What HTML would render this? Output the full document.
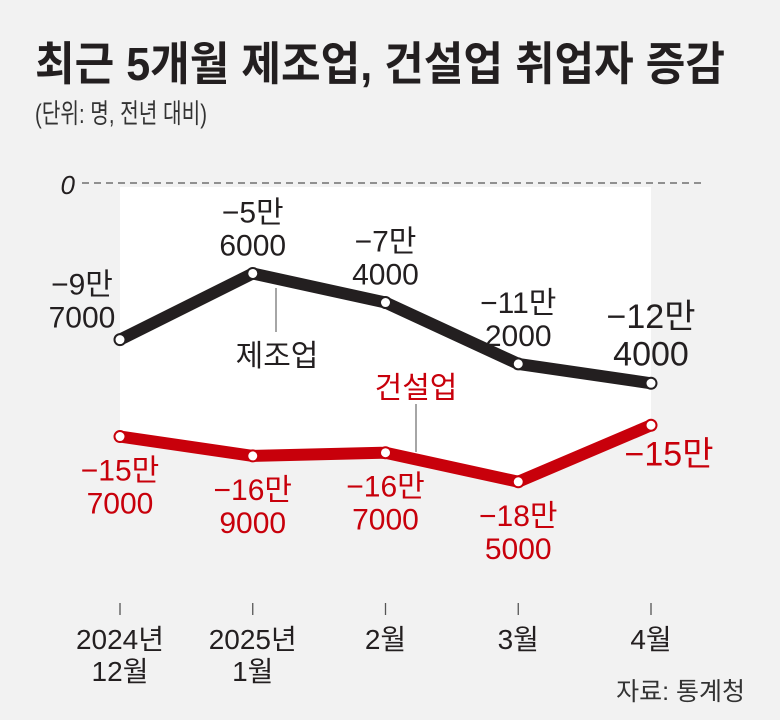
<!DOCTYPE html>
<html><head><meta charset="utf-8"><style>
html,body{margin:0;padding:0;background:#f2f2f2}
svg{display:block}
text{font-family:"Liberation Sans","Noto Sans CJK KR",sans-serif}
</style></head><body>
<svg width="780" height="720" viewBox="0 0 780 720">
<rect x="0" y="0" width="780" height="720" fill="#f2f2f2"/>
<text x="35" y="80" font-size="46" font-weight="bold" fill="#231f20" textLength="690" lengthAdjust="spacingAndGlyphs">최근 5개월 제조업, 건설업 취업자 증감</text>
<text x="35" y="123" font-size="27" fill="#333" textLength="172" lengthAdjust="spacingAndGlyphs">(단위: 명, 전년 대비)</text>
<polygon id="whiteArea" fill="#ffffff"/>
<text x="75" y="194" font-size="26" font-style="italic" fill="#231f20" text-anchor="end">0</text>
<line x1="82" y1="183" x2="706" y2="183" stroke="#555" stroke-width="1.3" stroke-dasharray="7,5"/>
<line x1="276" y1="288" x2="276" y2="332" stroke="#888" stroke-width="1.5"/>
<text x="277" y="366" font-size="30" fill="#231f20" text-anchor="middle">제조업</text>
<line x1="416" y1="404" x2="416" y2="452" stroke="#888" stroke-width="1.5"/>
<text x="416" y="398" font-size="30" fill="#c8000b" text-anchor="middle">건설업</text>
<g id="series"></g>
<g id="xaxis"></g>
<text x="745" y="700" font-size="25" fill="#333" text-anchor="end">자료: 통계청</text>
</svg>
<script>
const categories = ["2024년|12월","2025년|1월","2월","3월","4월"];
const manufacturing = [-97000,-56000,-74000,-112000,-124000];
const construction = [-157000,-169000,-167000,-185000,-150000];
const mfgLabels = ["−9만|7000","−5만|6000","−7만|4000","−11만|2000","−12만|4000"];
const conLabels = ["−15만|7000","−16만|9000","−16만|7000","−18만|5000","−15만"];

const NS="http://www.w3.org/2000/svg";
function xs(i){return 120+i*132.75;}
function ys(v){return 183-v/1000*1.615;}
function mk(tag,attrs,parent){const e=document.createElementNS(NS,tag);for(const k in attrs)e.setAttribute(k,attrs[k]);parent.appendChild(e);return e;}
const svg=document.querySelector('svg');
const g=document.getElementById('series');
const ax=document.getElementById('xaxis');

let pts=[[xs(0),187],[xs(4),187]];
for(let i=construction.length-1;i>=0;i--)pts.push([xs(i),ys(construction[i])]);
document.getElementById('whiteArea').setAttribute('points',pts.map(p=>p.join(',')).join(' '));

function drawSeries(vals,color,name){
  const pl=mk('polyline',{points:vals.map((v,i)=>xs(i)+','+ys(v)).join(' '),fill:'none',stroke:color,'stroke-width':12,'stroke-linejoin':'round','stroke-linecap':'round'},g);
  
  
  vals.forEach((v,i)=>{
    const c=mk('circle',{cx:xs(i),cy:ys(v),r:5.5,fill:'#fff',stroke:color,'stroke-width':2},g);
    
    
  });
}
drawSeries(construction,'#c8000b','construction');
drawSeries(manufacturing,'#231f20','manufacturing');

function label(txt,x,y,color,size,bold,name){
  const parts=txt.split('|');
  parts.forEach((p,j)=>{
    const t=mk('text',{x:x,y:y+j*size*1.1,'font-size':size,fill:color,'text-anchor':'middle','font-weight':bold?'bold':'normal'},svg);
    t.textContent=p;
    
    
  });
}
manufacturing.forEach((v,i)=>{
  const last=i===4;
  const size=last?34:30;
  const lines=mfgLabels[i].split('|').length;
  const y=ys(v)-18-(lines-1)*size*1.1;
  label(mfgLabels[i],xs(i)+(i===0?-38:0),i===0?ys(v)-45:y,'#231f20',size,false,'manufacturing-value-label');
});
construction.forEach((v,i)=>{
  const last=i===4;
  const size=last?34:30;
  label(conLabels[i],xs(i)+(i===4?18:0),ys(v)+(last?40:44),'#c8000b',size,false,'construction-value-label');
});
categories.forEach((c,i)=>{
  const t=mk('line',{x1:xs(i),y1:603,x2:xs(i),y2:615,stroke:'#555','stroke-width':1.3},ax);
  
  
  c.split('|').forEach((p,j)=>{
    const tx=mk('text',{x:xs(i),y:649+j*32,'font-size':28,fill:'#231f20','text-anchor':'middle'},ax);
    tx.textContent=p;
    
    
  });
});
</script>
</body></html>
